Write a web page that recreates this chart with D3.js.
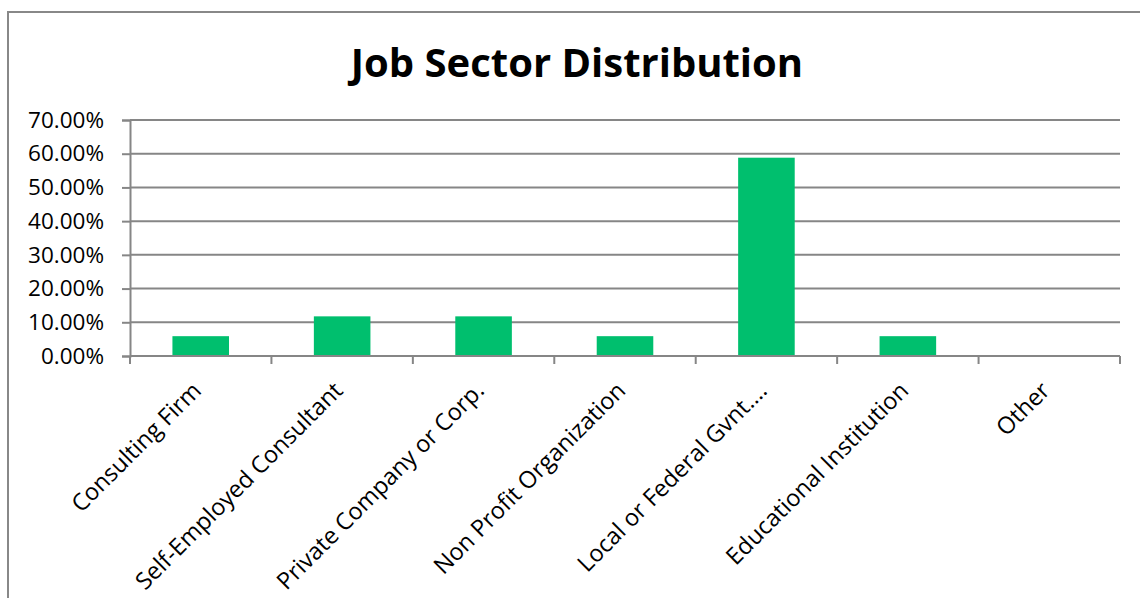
<!DOCTYPE html>
<html>
<head>
<meta charset="utf-8">
<script src="https://cdn.jsdelivr.net/npm/d3@7/dist/d3.min.js"></script>
<style>
  html, body { margin: 0; padding: 0; background: #fff; }
  svg { display: block; }
</style>
</head>
<body>
<script>
// Job sector shares (fraction of respondents)
const categories = [
  "Consulting Firm",
  "Self-Employed Consultant",
  "Private Company or Corp.",
  "Non Profit Organization",
  "Local or Federal Gvnt.\u2026",
  "Educational Institution",
  "Other"
];
const shares = [0.0588, 0.1176, 0.1176, 0.0588, 0.5882, 0.0588, 0];
const yTicks = [0, 0.1, 0.2, 0.3, 0.4, 0.5, 0.6, 0.7];
const chartTitle = "Job Sector Distribution";

const W = 1140, H = 598;
const font = "'Open Sans', 'Noto Sans', sans-serif";
const plot = { left: 130, right: 1120, top: 120, bottom: 356 };

const svg = d3.select("body").append("svg")
  .attr("width", W).attr("height", H);

// outer chart frame
svg.append("rect")
  .attr("x", 8).attr("y", 12)
  .attr("width", W + 20).attr("height", H + 20)
  .attr("fill", "#fff")
  .attr("stroke", "#888").attr("stroke-width", 2);

svg.append("text")
  .attr("x", 577).attr("y", 77)
  .attr("text-anchor", "middle")
  .attr("font-family", font)
  .attr("font-weight", "bold")
  .attr("font-size", 40)
  .attr("fill", "#000")
  .text(chartTitle);

const x = d3.scaleBand()
  .domain(categories)
  .range([plot.left, plot.right])
  .paddingInner(0.6)
  .paddingOuter(0.3);

const y = d3.scaleLinear()
  .domain([0, 0.7])
  .range([plot.bottom, plot.top]);

// horizontal gridlines
svg.append("g")
  .selectAll("line")
  .data(yTicks.slice(1))
  .join("line")
  .attr("x1", plot.left).attr("x2", plot.right)
  .attr("y1", d => y(d)).attr("y2", d => y(d))
  .attr("stroke", "#868686").attr("stroke-width", 2);

// bars
svg.append("g")
  .selectAll("rect")
  .data(categories)
  .join("rect")
  .attr("x", d => x(d))
  .attr("width", x.bandwidth())
  .attr("y", (d, i) => y(shares[i]))
  .attr("height", (d, i) => y(0) - y(shares[i]))
  .attr("fill", "#00BF6E");

// y axis
const yAxis = svg.append("g")
  .attr("transform", `translate(${plot.left},0)`)
  .call(d3.axisLeft(y).tickValues(yTicks).tickFormat(d3.format(".2%")).tickSizeOuter(0).tickSize(8).tickPadding(18));
yAxis.select(".domain").attr("stroke", "#868686").attr("stroke-width", 2);
yAxis.selectAll(".tick line").attr("stroke", "#868686").attr("stroke-width", 2);
yAxis.selectAll("text")
  .attr("font-family", font).attr("font-size", 22.5).attr("fill", "#000");

// x axis: ticks at band boundaries
const xAxisG = svg.append("g");
xAxisG.append("line")
  .attr("x1", plot.left).attr("x2", plot.right)
  .attr("y1", plot.bottom).attr("y2", plot.bottom)
  .attr("stroke", "#868686").attr("stroke-width", 2);
const bounds = d3.range(categories.length + 1).map(i => plot.left + i * (plot.right - plot.left) / categories.length);
xAxisG.selectAll("line.tk")
  .data(bounds)
  .join("line").attr("class", "tk")
  .attr("x1", d => d).attr("x2", d => d)
  .attr("y1", plot.bottom).attr("y2", plot.bottom + 8)
  .attr("stroke", "#868686").attr("stroke-width", 2);

xAxisG.selectAll("text")
  .data(categories)
  .join("text")
  .attr("transform", d => `translate(${x(d) + x.bandwidth() / 2 + 2},${plot.bottom + 36}) rotate(-45)`)
  .attr("text-anchor", "end")
  .attr("font-family", font)
  .attr("font-size", 23.5)
  .attr("fill", "#000")
  .text(d => d);
</script>
</body>
</html>
